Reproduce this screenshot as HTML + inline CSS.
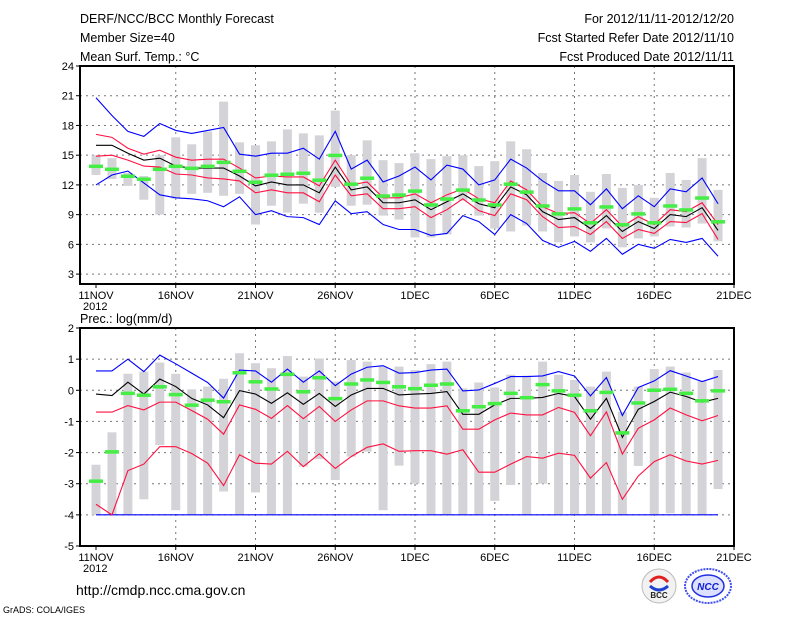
<!DOCTYPE html>
<html><head><meta charset="utf-8"><style>
body{margin:0;background:#fff;width:800px;height:618px;overflow:hidden}
svg{display:block;font-family:"Liberation Sans",sans-serif}
</style></head><body>
<svg id="c" width="800" height="618" xmlns="http://www.w3.org/2000/svg">
<text x="80" y="23" font-size="12.5">DERF/NCC/BCC Monthly Forecast</text>
<text x="80" y="42" font-size="12.5">Member Size=40</text>
<text x="80" y="61" font-size="12.5">Mean Surf. Temp.: °C</text>
<text x="734" y="23" font-size="12.5" text-anchor="end">For 2012/11/11-2012/12/20</text>
<text x="734" y="42" font-size="12.5" text-anchor="end">Fcst Started Refer Date 2012/11/10</text>
<text x="734" y="61" font-size="12.5" text-anchor="end">Fcst Produced Date 2012/11/11</text>
<text x="80" y="323" font-size="12.5">Prec.: log(mm/d)</text>
<text x="76" y="595" font-size="14">http://cmdp.ncc.cma.gov.cn</text>
<text x="3" y="613" font-size="9">GrADS: COLA/IGES</text>
<g><circle cx="659" cy="586" r="17" fill="#f2f2f2" stroke="#bbb"/><path d="M650 582 q9 -10 18 0" stroke="#e02020" stroke-width="3" fill="none"/><path d="M650 586 q9 8 18 0" stroke="#2040d0" stroke-width="3" fill="none"/><text x="659" y="598" font-size="8" text-anchor="middle" font-weight="bold" fill="#222">BCC</text></g>
<g><ellipse cx="708" cy="586" rx="23" ry="17" fill="none" stroke="#4050ee" stroke-width="2" stroke-dasharray="2,1"/><ellipse cx="708" cy="586" rx="16" ry="11" fill="#dde0ff" stroke="#2030e0" stroke-width="1.5"/><text x="708" y="590" font-size="10" text-anchor="middle" font-weight="bold" fill="#1020d0" font-style="italic">NCC</text></g>
</svg>
<script>
// ---- Temperature data (days 0..39 from 11 NOV) ----
const tMax=[20.8,19,17.4,16.9,18.2,17.5,17.2,17.5,17.8,15.1,14.9,15.2,15.2,15.7,14.6,17.4,13.6,14.5,12.3,12.9,13.8,12.5,14.0,13.6,12.0,12.5,14.6,13.7,12.4,11.4,11.4,10.0,11.6,9.6,10.9,9.8,11.6,11.3,12.7,10.1];
const tMin=[12.0,13.0,13.4,12.2,11.0,10.7,10.6,10.4,9.8,10.8,9.0,9.4,8.8,8.7,8.0,10.4,9.1,9.3,8.0,7.5,7.5,6.9,7.1,8.9,8.3,7.0,9.0,8.1,6.4,5.7,6.3,5.3,6.6,5.0,6.0,5.6,6.5,6.2,6.6,4.8];
const tMean=[16.0,16.0,15.2,14.5,14.7,13.9,13.7,13.7,13.7,12.9,11.9,12.3,12.0,12.0,11.2,13.8,11.5,11.8,10.2,10.2,10.5,9.5,10.3,11.1,10.1,9.7,11.8,11.0,9.3,8.5,8.7,7.6,8.9,7.3,8.3,7.6,9.0,8.8,9.7,7.4];
const tUp=[17.1,16.8,15.7,15.1,15.5,14.8,14.5,14.6,14.6,13.7,12.7,12.9,12.8,12.8,11.9,14.5,12.0,12.3,10.7,10.7,11.1,10.2,11.0,11.6,10.6,10.2,12.4,11.5,9.8,9.1,9.2,8.1,9.5,7.8,8.8,8.0,9.5,9.3,10.2,8.0];
const tLo=[14.9,15.0,14.5,13.9,13.8,13.1,13.0,12.7,12.6,12.4,11.2,11.5,11.2,11.2,10.3,13.0,10.9,11.1,9.6,9.6,9.8,8.7,9.5,10.6,9.4,8.9,11.1,10.5,8.8,7.7,7.8,7.0,8.3,6.6,7.5,7.1,8.3,8.2,9.1,6.5];
const tObs=[13.9,13.6,12.9,12.6,13.6,13.9,13.7,13.9,14.3,13.4,12.3,13.0,13.1,13.2,12.5,15.0,12.1,12.7,10.9,11.0,11.4,10.0,10.6,11.5,10.5,10.0,12.1,11.3,9.9,9.1,9.6,8.2,9.8,8.0,9.1,8.2,9.9,9.5,10.7,8.3];
const tBarHi=[15.0,14.7,13.2,12.9,15.0,16.8,16.1,17.4,20.4,16.3,16.0,16.4,17.6,17.2,17.0,19.5,15.0,16.5,14.5,14.2,15.2,14.6,14.9,15.0,13.9,14.4,16.4,15.6,13.2,12.4,13.0,11.3,13.1,11.7,12.0,10.7,13.2,12.5,14.7,11.5];
const tBarLo=[13.0,12.6,11.9,10.5,9.0,10.6,11.1,11.2,10.9,11.1,8.0,9.9,9.2,10.1,9.2,11.8,9.9,10.0,8.9,8.5,6.7,6.7,7.0,10.4,8.9,7.6,7.3,7.9,7.3,6.2,6.8,6.2,7.6,5.7,6.6,6.8,7.8,7.7,8.1,6.3];
const tTicks=[3,6,9,12,15,18,21,24];
// ---- Precipitation data ----
const pMax=[0.62,0.62,1.0,0.6,1.13,0.85,0.55,0.25,-0.25,0.65,0.62,0.26,0.68,0.26,0.62,0.15,0.52,0.74,0.79,0.55,0.57,0.65,0.68,-0.02,0.01,0.22,0.44,0.44,0.46,0.6,0.46,-0.18,0.41,-0.81,0.09,0.3,0.63,0.46,0.28,0.44];
const pMin=[-4,-4,-4,-4,-4,-4,-4,-4,-4,-4,-4,-4,-4,-4,-4,-4,-4,-4,-4,-4,-4,-4,-4,-4,-4,-4,-4,-4,-4,-4,-4,-4,-4,-4,-4,-4,-4,-4,-4,-4];
const pMean=[-0.12,-0.17,0.26,-0.12,0.36,0.12,-0.26,-0.47,-0.88,-0.01,-0.12,-0.42,-0.08,-0.45,-0.10,-0.52,-0.15,0.06,0.06,-0.15,-0.12,-0.10,-0.04,-0.77,-0.77,-0.47,-0.26,-0.26,-0.23,-0.10,-0.2,-0.93,-0.26,-1.51,-0.61,-0.36,-0.06,-0.2,-0.38,-0.26];
const pUp=[-0.7,-0.7,-0.49,-0.63,-0.38,-0.38,-0.65,-0.93,-1.41,-0.47,-0.61,-0.9,-0.49,-0.91,-0.52,-1.0,-0.63,-0.34,-0.34,-0.5,-0.57,-0.57,-0.5,-1.25,-1.25,-0.95,-0.73,-0.79,-0.79,-0.55,-0.71,-1.46,-0.69,-2.05,-1.22,-0.95,-0.57,-0.79,-0.98,-0.81];
const pLo=[-3.66,-4.0,-2.58,-2.37,-1.81,-1.81,-2.03,-2.34,-3.06,-2.07,-2.34,-2.37,-1.96,-2.45,-2.04,-2.51,-2.13,-1.83,-1.72,-1.96,-1.94,-1.94,-2.05,-1.91,-2.63,-2.63,-2.37,-2.13,-2.18,-2.02,-2.09,-2.82,-2.32,-3.5,-2.75,-2.29,-2.07,-2.27,-2.37,-2.25];
const pObs=[-2.91,-1.97,-0.09,-0.15,0.12,-0.13,-0.47,-0.31,-0.36,0.57,0.28,0.05,0.52,-0.04,0.41,-0.26,0.21,0.34,0.26,0.12,0.06,0.17,0.21,-0.65,-0.52,-0.42,-0.09,-0.23,0.19,-0.01,-0.15,-0.65,-0.06,-1.36,-0.4,0.01,0.04,-0.09,-0.33,-0.01];
const pBarHi=[-2.39,-1.35,0.53,0.6,0.89,0.53,0.03,0.12,0.37,1.19,0.87,0.71,1.1,0.44,1.02,0.28,0.97,0.92,0.76,0.76,0.65,0.84,0.92,0.06,0.25,0.09,0.5,0.47,0.92,0.5,0.33,0.12,0.6,-0.69,0.12,0.68,0.76,0.57,0.3,0.65];
const pBarLo=[-4,-4,-4,-3.5,-1.76,-3.85,-4,-4,-3.25,-4,-3.28,-4,-4,-2.45,-2.21,-2.88,-2.13,-1.97,-3.85,-2.42,-3.0,-4,-4,-4,-4,-3.55,-3.04,-4,-3.0,-4,-4,-4,-4,-4,-2.43,-4,-3.95,-4,-4,-3.17];
const pTicks=[-5,-4,-3,-2,-1,0,1,2];
const xLabels=["11NOV","16NOV","21NOV","26NOV","1DEC","6DEC","11DEC","16DEC","21DEC"];

const svg=document.getElementById('c');
const NS='http://www.w3.org/2000/svg';
function mk(tag,attrs,parent){const e=document.createElementNS(NS,tag);for(const k in attrs)e.setAttribute(k,attrs[k]);(parent||svg).appendChild(e);return e;}
const X0=80,X1=734;
function xs(d){return 96+d*15.95;}
function panel(name,top,bottom,vmin,vmax,ticks,series){
  const g=mk('g',{});
  
  
  const ys=v=>bottom-(v-vmin)/(vmax-vmin)*(bottom-top);
  ticks.forEach(t=>{
    const y=ys(t);
    if(t>vmin&&t<vmax){const l=mk('line',{x1:X0,x2:X1,y1:y,y2:y,stroke:'#777','stroke-dasharray':'2,4','stroke-width':1},g);
    
    }
    const tx=mk('text',{x:74,y:y+4,'font-size':11,'text-anchor':'end'},g);
    tx.textContent=t;
    
    
    mk('line',{x1:76,x2:X0,y1:y,y2:y,stroke:'#000'},g);
  });
  xLabels.forEach((lab,i)=>{
    const x=xs(i*5);
    if(i>0&&i<8){const l=mk('line',{x1:x,x2:x,y1:top,y2:bottom,stroke:'#777','stroke-dasharray':'2,4'},g);
    
    }
    mk('line',{x1:x,x2:x,y1:bottom,y2:bottom+4,stroke:'#000'},g);
    const tx=mk('text',{x:x,y:bottom+15,'font-size':11,'text-anchor':'middle'},g);
    tx.textContent=lab;
    
    
  });
  const yr=mk('text',{x:83,y:bottom+26,'font-size':11},g);
  yr.textContent='2012';
  
  
  series.barHi.forEach((h,d)=>{
    const y1=ys(h),y2=ys(series.barLo[d]);
    const r=mk('rect',{x:xs(d)-4.5,y:y1,width:9,height:y2-y1,fill:'#d4d4d8'},g);
    
    
  });
  const line=(arr,col,nm)=>{
    const p=mk('polyline',{points:arr.map((v,d)=>xs(d)+','+ys(v)).join(' '),fill:'none',stroke:col,'stroke-width':1.1},g);
    
    
  };
  line(series.max,'#0000ff','max-line');
  line(series.min,'#0000ff','min-line');
  line(series.up,'#ff1040','upper-line');
  line(series.lo,'#ff1040','lower-line');
  line(series.mean,'#000','mean-line');
  series.obs.forEach((v,d)=>{
    const r=mk('rect',{x:xs(d)-7,y:ys(v)-1.5,width:14,height:3.5,fill:'#44ee44'},g);
    
    
  });
  const fr=mk('rect',{x:X0,y:top,width:X1-X0,height:bottom-top,fill:'none',stroke:'#000','stroke-width':2},g);
  
  
}
panel('temperature-panel',66,284,2,24,tTicks,{max:tMax,min:tMin,mean:tMean,up:tUp,lo:tLo,obs:tObs,barHi:tBarHi,barLo:tBarLo});
panel('precipitation-panel',328,546,-5,2,pTicks,{max:pMax,min:pMin,mean:pMean,up:pUp,lo:pLo,obs:pObs,barHi:pBarHi,barLo:pBarLo});
</script>
</body></html>
